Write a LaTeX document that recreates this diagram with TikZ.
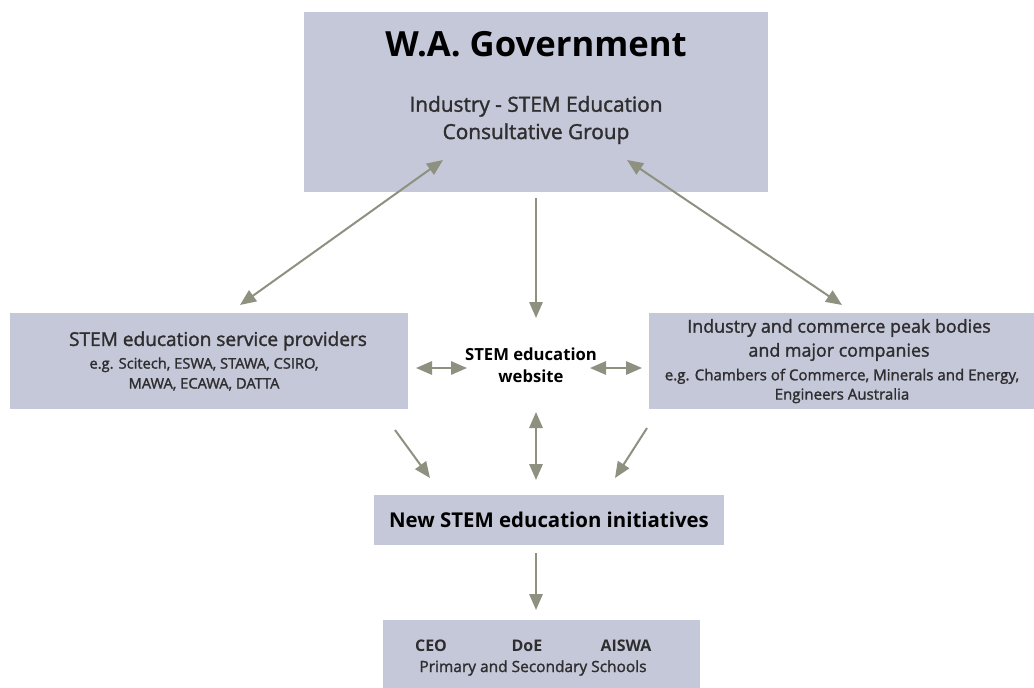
\documentclass[tikz,border=0pt]{standalone}
\usepackage{fontspec}
\setmainfont{Open Sans}
\newfontfamily\medfont[FakeBold=1.6]{Open Sans}
\usetikzlibrary{arrows.meta}
\definecolor{boxfill}{HTML}{C5C8D8}
\definecolor{arrowc}{HTML}{8E9080}
\definecolor{txt}{HTML}{2E2E30}
\begin{document}
\begin{tikzpicture}[x=0.75pt,y=-0.75pt,
  box/.style={fill=boxfill,draw=none,inner sep=0,anchor=north west},
  conn/.style={draw=arrowc,line width=1.5pt,-{Triangle[length=12pt,width=10pt]}},
  dconn/.style={draw=arrowc,line width=1.5pt,{Triangle[length=12pt,width=10pt]}-{Triangle[length=12pt,width=10pt]}},
  lbl/.style={inner sep=0,text=txt,align=center}]
\useasboundingbox (0,0) rectangle (1034,688);
% boxes (sizes in pt = px * 0.75)
\node[box,minimum width=348pt,minimum height=135pt] (gov) at (304,12) {};
\node[box,minimum width=298.5pt,minimum height=72pt] (prov) at (10,313) {};
\node[box,minimum width=288.75pt,minimum height=72pt] (ind) at (649,313) {};
\node[box,minimum width=262.5pt,minimum height=37.5pt] (init) at (374,495) {};
\node[box,minimum width=237.75pt,minimum height=51pt] (sch) at (383,620) {};
% texts
\node[inner sep=0,font=\fontsize{26pt}{30pt}\selectfont\bfseries] (govt) at (536,44) {W.A. Government};
\node[lbl,font=\fontsize{15.6pt}{20.5pt}\selectfont\medfont] (govs) at (536,120) {Industry - STEM Education\\Consultative Group};
\node[lbl,font=\fontsize{14.3pt}{16pt}\selectfont\medfont] (provt) at (218,341) {STEM education service providers};
\node[lbl,font=\fontsize{11pt}{15pt}\selectfont\medfont] (provs) at (204,374) {e.g. Scitech, ESWA, STAWA, CSIRO,\\MAWA, ECAWA, DATTA};
\node[lbl,font=\fontsize{13.4pt}{18pt}\selectfont\medfont] (indt) at (839,340) {Industry and commerce peak bodies\\and major companies};
\node[lbl,font=\fontsize{11.3pt}{14.5pt}\selectfont\medfont] (inds) at (842,386) {e.g. Chambers of Commerce, Minerals and Energy,\\Engineers Australia};
\node[lbl,text=black,font=\fontsize{12.5pt}{16.5pt}\selectfont\bfseries] (web) at (531,365) {STEM education\\website};
\node[lbl,text=black,font=\fontsize{15.3pt}{18pt}\selectfont\bfseries] (initt) at (549,520) {New STEM education initiatives};
\node[lbl,font=\fontsize{12pt}{14pt}\selectfont\bfseries] (ceo) at (431,646) {CEO};
\node[lbl,font=\fontsize{12pt}{14pt}\selectfont\bfseries] (doe) at (527,646) {DoE};
\node[lbl,font=\fontsize{12pt}{14pt}\selectfont\bfseries] (aiswa) at (626,646) {AISWA};
\node[lbl,font=\fontsize{11.6pt}{14pt}\selectfont\medfont] (schs) at (533,668) {Primary and Secondary Schools};
% connector end points
\coordinate (gl) at (443,160);
\coordinate (pl) at (240,305);
\coordinate (gr) at (627,160);
\coordinate (ir) at (842,305);
\coordinate (gb) at (536,198);
\coordinate (wt) at (536,318);
\coordinate (pr) at (416,368);
\coordinate (wl) at (467,368);
\coordinate (wr) at (590,368);
\coordinate (il) at (642,368);
\coordinate (wb) at (536,412);
\coordinate (it) at (536,480);
\coordinate (pb) at (395,430);
\coordinate (itl) at (430,478);
\coordinate (ib) at (647,428);
\coordinate (itr) at (615,478);
\coordinate (initb) at (536,553);
\coordinate (scht) at (536,610);
% connectors
\draw[dconn] (gl) -- (pl);
\draw[dconn] (gr) -- (ir);
\draw[conn] (gb) -- (wt);
\draw[dconn] (pr) -- (wl);
\draw[dconn] (wr) -- (il);
\draw[dconn] (wb) -- (it);
\draw[conn] (pb) -- (itl);
\draw[conn] (ib) -- (itr);
\draw[conn] (initb) -- (scht);
\end{tikzpicture}
\end{document}
